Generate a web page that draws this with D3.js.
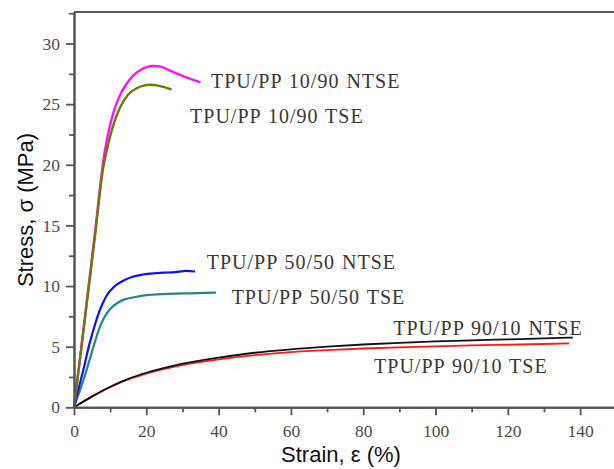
<!DOCTYPE html>
<html>
<head>
<meta charset="utf-8">
<script src="https://cdn.jsdelivr.net/npm/d3@7/dist/d3.min.js"></script>
<style>
body { margin: 0; background: #fff; }
svg { display: block; }
</style>
</head>
<body>
<svg id="chart" width="614" height="469"></svg>
<script>

// stress-strain curves: strain in %, stress in MPa
var strain1090NTSE = [0, 2, 4, 6, 7, 8, 9, 10, 11, 12.5, 14.6, 16.5, 18.3, 20, 22, 24, 26, 29, 32, 35];
var stress1090NTSE = [0, 4.9, 9.9, 14.9, 17.6, 20.1, 21.9, 23.3, 24.4, 25.6, 26.7, 27.4, 27.8, 28.05, 28.15, 28.1, 27.85, 27.45, 27.1, 26.8];

var strain1090TSE = [0, 2, 4, 6, 7, 8, 9, 10.5, 12.7, 15, 17.3, 19, 21, 23, 25, 27];
var stress1090TSE = [0, 4.8, 9.7, 14.6, 17.3, 19.6, 21.1, 22.9, 24.7, 25.8, 26.3, 26.5, 26.6, 26.55, 26.4, 26.2];

var strain5050NTSE = [0, 1, 2, 3, 4, 5, 6, 7, 8, 9, 10, 12, 14, 16, 19, 22, 25, 28, 31, 33.5];
var stress5050NTSE = [0, 1.2, 2.4, 3.6, 4.9, 6.0, 7.0, 7.9, 8.6, 9.2, 9.6, 10.15, 10.5, 10.75, 10.95, 11.05, 11.1, 11.15, 11.25, 11.2];

var strain5050TSE = [0, 1, 2, 3, 4, 5, 6, 7, 8, 9, 10, 12, 14, 17, 20, 24, 28, 32, 36, 39.3];
var stress5050TSE = [0, 0.85, 1.7, 2.6, 3.6, 4.6, 5.6, 6.5, 7.2, 7.7, 8.1, 8.6, 8.9, 9.1, 9.25, 9.33, 9.38, 9.4, 9.43, 9.45];

var strain9010NTSE = [0, 5, 10, 15, 20, 25, 30, 40, 50, 60, 70, 80, 90, 100, 110, 120, 130, 138];
var stress9010NTSE = [0, 0.9, 1.7, 2.35, 2.85, 3.25, 3.6, 4.1, 4.5, 4.78, 5.0, 5.18, 5.32, 5.43, 5.52, 5.6, 5.68, 5.75];

var strain9010TSE = [0, 5, 10, 15, 20, 25, 30, 40, 50, 60, 70, 80, 90, 100, 110, 120, 130, 137];
var stress9010TSE = [0, 0.88, 1.65, 2.3, 2.78, 3.17, 3.48, 3.95, 4.3, 4.55, 4.72, 4.85, 4.95, 5.03, 5.1, 5.16, 5.22, 5.27];

// series names and where their labels sit (strain, stress of the text baseline start)
var seriesNames = ["TPU/PP 90/10 TSE", "TPU/PP 90/10 NTSE", "TPU/PP 50/50 TSE", "TPU/PP 50/50 NTSE", "TPU/PP 10/90 NTSE", "TPU/PP 10/90 TSE"];
var labelStrain = [83.0, 88.3, 43.6, 36.7, 37.9, 32.1];
var labelStress = [2.80, 5.96, 8.52, 11.40, 26.35, 23.41];

// axis ticks
var xTicks = [0, 20, 40, 60, 80, 100, 120, 140];
var xMinor = [10, 30, 50, 70, 90, 110, 130, 150];
var yTicks = [0, 5, 10, 15, 20, 25, 30];
var yMinor = [2.5, 7.5, 12.5, 17.5, 22.5, 27.5, 32.5];



var series = [
	{ name: seriesNames[0], x: strain9010TSE, y: stress9010TSE, color: "#ff1a1a", width: 1.8 },
	{ name: seriesNames[1], x: strain9010NTSE, y: stress9010NTSE, color: "#111111", width: 1.8 },
	{ name: seriesNames[2], x: strain5050TSE, y: stress5050TSE, color: "#1f8a86", width: 2.2 },
	{ name: seriesNames[3], x: strain5050NTSE, y: stress5050NTSE, color: "#1010ff", width: 2.2 },
	{ name: seriesNames[4], x: strain1090NTSE, y: stress1090NTSE, color: "#ff10ff", width: 2.4 },
	{ name: seriesNames[5], x: strain1090TSE, y: stress1090TSE, color: "#777700", width: 2.4 }
];

var svg = d3.select("#chart");
var plotLeft = 74, plotTop = 12, plotBottom = 407.3;

var x = d3.scaleLinear().domain([0, 150]).range([plotLeft, 616.3]);
var y = d3.scaleLinear().domain([0, 32.6]).range([plotBottom, plotTop]);

var axisColor = "#555";
var tickFont = "'Liberation Serif', 'Times New Roman', serif";
var titleFont = "'Liberation Sans', Arial, sans-serif";



// top frame line
svg.append("line")
	.attr("x1", plotLeft).attr("x2", 614)
	.attr("y1", plotTop).attr("y2", plotTop)
	.attr("stroke", "#222").attr("stroke-width", 1.6);

// curves
var line = d3.line().curve(d3.curveMonotoneX);
svg.append("g").selectAll("path")
	.data(series)
	.join("path")
	.attr("fill", "none")
	.attr("stroke", function (d) { return d.color; })
	.attr("stroke-width", function (d) { return d.width; })
	.attr("stroke-linejoin", "round")
	.attr("d", function (d) {
		return line(d.x.map(function (v, i) { return [x(v), y(d.y[i])]; }));
	});

// x axis: minor ticks then major ticks with labels
svg.append("g")
	.attr("transform", "translate(0," + plotBottom + ")")
	.call(d3.axisBottom(x).tickValues(xMinor).tickSize(5).tickSizeOuter(0).tickFormat(""))
	.call(styleAxis);
svg.append("g")
	.attr("transform", "translate(0," + plotBottom + ")")
	.call(d3.axisBottom(x).tickValues(xTicks).tickSize(8).tickSizeOuter(0).tickPadding(9))
	.call(styleAxis);

// y axis
svg.append("g")
	.attr("transform", "translate(" + plotLeft + ",0)")
	.call(d3.axisLeft(y).tickValues(yMinor).tickSize(5).tickSizeOuter(0).tickFormat(""))
	.call(styleAxis);
svg.append("g")
	.attr("transform", "translate(" + plotLeft + ",0)")
	.call(d3.axisLeft(y).tickValues(yTicks).tickSize(8).tickSizeOuter(0).tickPadding(6))
	.call(styleAxis);

function styleAxis(g) {
	g.select(".domain").attr("stroke", axisColor).attr("stroke-width", 2);
	g.selectAll(".tick line").attr("stroke", axisColor).attr("stroke-width", 1.8);
	g.selectAll(".tick text")
		.attr("fill", "#4f4a45")
		.style("font-family", tickFont)
		.style("font-size", "17.5px");
};

// axis titles
svg.append("text")
	.attr("x", 341).attr("y", 462)
	.attr("text-anchor", "middle")
	.style("font-family", titleFont)
	.style("font-size", "22px")
	.attr("fill", "#111")
	.text("Strain, \u03b5 (%)");

svg.append("text")
	.attr("transform", "translate(33,210) rotate(-90)")
	.attr("text-anchor", "middle")
	.style("font-family", titleFont)
	.style("font-size", "22px")
	.attr("fill", "#111")
	.text("Stress, \u03c3 (MPa)");

// series labels
svg.append("g").selectAll("text")
	.data(series)
	.join("text")
	.attr("x", function (d, i) { return x(labelStrain[i]); })
	.attr("y", function (d, i) { return y(labelStress[i]); })
	.attr("fill", "#3a3733")
	.style("font-family", tickFont)
	.style("font-size", "20px")
	.style("letter-spacing", "1px")
	.style("word-spacing", "1px")
	.text(function (d) { return d.name; });

</script>
</body>
</html>
